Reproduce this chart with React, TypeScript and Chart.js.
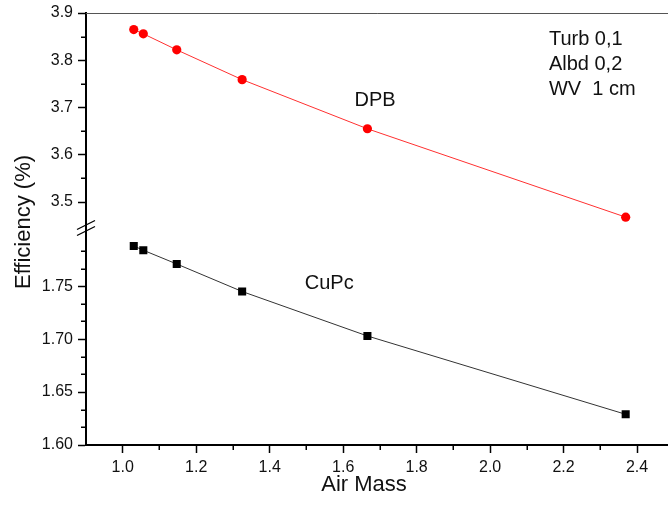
import React, { useEffect, useRef } from 'react';
import { Chart, registerables } from 'chart.js';

Chart.register(...registerables);

// ---- data ----
const airMass = [1.03, 1.056, 1.147, 1.325, 1.666, 2.369];
const dpbEfficiency = [3.865, 3.856, 3.822, 3.759, 3.655, 3.468];
const cupcEfficiency = [1.788, 1.784, 1.771, 1.745, 1.703, 1.629];

// ---- ticks ----
const xMajorTicks = [1.0, 1.2, 1.4, 1.6, 1.8, 2.0, 2.2, 2.4];
const xMinorTicks = [1.1, 1.3, 1.5, 1.7, 1.9, 2.1, 2.3];
const yTopMajorTicks = [3.5, 3.6, 3.7, 3.8, 3.9];
const yTopMinorTicks = [3.55, 3.65, 3.75, 3.85];
const yBotMajorTicks = [1.6, 1.65, 1.7, 1.75];
const yBotMinorTicks = [1.6167, 1.6333, 1.6667, 1.6833, 1.7167, 1.7333, 1.7667, 1.7833];

// ---- annotation texts ----
const seriesLabels = ['DPB', 'CuPc'];
const conditionLines = ['Turb 0,1', 'Albd 0,2', 'WV  1 cm'];
const xTitle = 'Air Mass';
const yTitle = 'Efficiency (%)';

const FONT = '"Liberation Sans", Arial, sans-serif';
const TEXT = '#111';

const decorPlugin = {
  id: 'decor',
  afterDraw(chart: any) {
    const { ctx, chartArea, scales } = chart;
    const x = scales.x;
    const yt = scales.yTop;
    const yb = scales.yBot;
    const left = chartArea.left;
    ctx.save();

    // top frame line
    ctx.strokeStyle = '#555';
    ctx.lineWidth = 1;
    ctx.beginPath();
    ctx.moveTo(left, chartArea.top + 0.5);
    ctx.lineTo(chartArea.right, chartArea.top + 0.5);
    ctx.stroke();

    // minor ticks
    ctx.strokeStyle = '#000';
    ctx.lineWidth = 1.5;
    ctx.beginPath();
    xMinorTicks.forEach((v) => {
      const px = Math.round(x.getPixelForValue(v)) + 0.25;
      ctx.moveTo(px, chartArea.bottom);
      ctx.lineTo(px, chartArea.bottom + 5);
    });
    yTopMinorTicks.forEach((v) => {
      const py = Math.round(yt.getPixelForValue(v)) + 0.25;
      ctx.moveTo(left, py);
      ctx.lineTo(left - 5, py);
    });
    yBotMinorTicks.forEach((v) => {
      const py = Math.round(yb.getPixelForValue(v)) + 0.25;
      ctx.moveTo(left, py);
      ctx.lineTo(left - 5, py);
    });
    ctx.stroke();

    // axis break marks
    const by = yt.bottom;
    ctx.lineWidth = 1.3;
    ctx.beginPath();
    [-3, 3].forEach((d) => {
      ctx.moveTo(left - 9, by + d + 4.5);
      ctx.lineTo(left + 9, by + d - 4.5);
    });
    ctx.stroke();

    // series labels
    ctx.fillStyle = TEXT;
    ctx.font = `20px ${FONT}`;
    ctx.textAlign = 'center';
    ctx.textBaseline = 'middle';
    ctx.fillText(seriesLabels[0], x.getPixelForValue(1.687), yt.getPixelForValue(3.715));
    ctx.fillText(seriesLabels[1], x.getPixelForValue(1.562), yb.getPixelForValue(1.753));

    // conditions block
    ctx.textAlign = 'left';
    ctx.textBaseline = 'alphabetic';
    const condY = [3.8316, 3.7787, 3.7258];
    conditionLines.forEach((t, i) => {
      ctx.fillText(t, x.getPixelForValue(2.16), yt.getPixelForValue(condY[i]));
    });

    // axis titles
    ctx.font = `22px ${FONT}`;
    ctx.textAlign = 'center';
    ctx.textBaseline = 'middle';
    ctx.fillText(xTitle, 364, 485);
    ctx.save();
    ctx.translate(24, 222);
    ctx.rotate(-Math.PI / 2);
    ctx.fillText(yTitle, 0, 0);
    ctx.restore();

    ctx.restore();
  },
};

export default function App() {
  const ref = useRef<HTMLCanvasElement | null>(null);

  useEffect(() => {
    if (!ref.current) return;
    const tickFont = { family: FONT, size: 16 };
    const grid = { display: true, drawOnChartArea: false, drawTicks: true, tickLength: 8, tickColor: '#000', tickWidth: 1.5 };
    const border = { display: true, color: '#000', width: 2 };
    const chart = new Chart(ref.current, {
      type: 'scatter',
      data: {
        datasets: [
          {
            label: 'DPB',
            data: airMass.map((a, i) => ({ x: a, y: dpbEfficiency[i] })),
            yAxisID: 'yTop',
            showLine: true,
            borderColor: '#ff3030',
            borderWidth: 1,
            backgroundColor: '#ff0000',
            pointStyle: 'circle',
            pointRadius: 4.6,
            pointBorderWidth: 0,
            pointBackgroundColor: '#ff0000',
          },
          {
            label: 'CuPc',
            data: airMass.map((a, i) => ({ x: a, y: cupcEfficiency[i] })),
            yAxisID: 'yBot',
            showLine: true,
            borderColor: '#333',
            borderWidth: 1,
            backgroundColor: '#000',
            pointStyle: 'rect',
            pointRadius: 5.7,
            pointBorderWidth: 0,
            pointBackgroundColor: '#000',
          },
        ],
      },
      options: {
        animation: false,
        responsive: false,
        devicePixelRatio: 1,
        layout: { padding: { top: 13, right: 0, left: 0, bottom: 0 } },
        plugins: { legend: { display: false }, tooltip: { enabled: false } },
        scales: {
          x: {
            type: 'linear',
            position: 'bottom',
            min: 0.9,
            max: 2.485,
            afterBuildTicks: (s: any) => {
              s.ticks = xMajorTicks.map((v) => ({ value: v }));
            },
            afterFit: (s: any) => {
              s.height = 62;
              s.paddingLeft = 0;
              s.paddingRight = 0;
            },
            ticks: {
              callback: (v: any) => Number(v).toFixed(1),
              font: tickFont,
              color: TEXT,
              padding: 5,
              maxRotation: 0,
              autoSkip: false,
            },
            grid,
            border,
          },
          yBot: {
            type: 'linear',
            position: 'left',
            stack: 'eff',
            stackWeight: 217,
            min: 1.6,
            max: 1.805,
            afterBuildTicks: (s: any) => {
              s.ticks = yBotMajorTicks.map((v) => ({ value: v }));
            },
            afterFit: (s: any) => {
              s.width = 86;
              s.paddingTop = 0;
              s.paddingBottom = 0;
            },
            ticks: {
              callback: (v: any) => Number(v).toFixed(2),
              font: tickFont,
              color: TEXT,
              padding: 5,
              autoSkip: false,
            },
            grid,
            border,
          },
          yTop: {
            type: 'linear',
            position: 'left',
            stack: 'eff',
            stackWeight: 215,
            min: 3.445,
            max: 3.9,
            afterBuildTicks: (s: any) => {
              s.ticks = yTopMajorTicks.map((v) => ({ value: v }));
            },
            afterFit: (s: any) => {
              s.width = 86;
              s.paddingTop = 0;
              s.paddingBottom = 0;
            },
            ticks: {
              callback: (v: any) => Number(v).toFixed(1),
              font: tickFont,
              color: TEXT,
              padding: 5,
              autoSkip: false,
            },
            grid,
            border,
          },
        },
      } as any,
      plugins: [decorPlugin],
    });
    return () => chart.destroy();
  }, []);

  return (
    <div style={{ position: 'absolute', left: 0, top: 0, width: 668, height: 507, overflow: 'hidden', background: '#fff' }}>
      <canvas ref={ref} width={674} height={507} style={{ display: 'block' }} />
    </div>
  );
}
